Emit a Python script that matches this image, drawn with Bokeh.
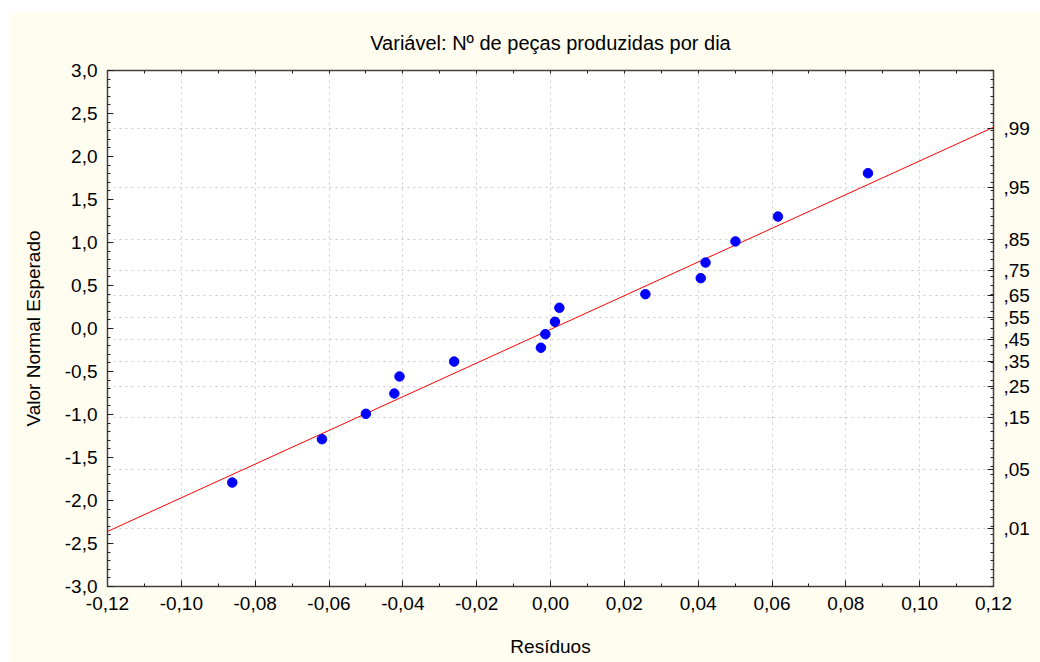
from bokeh.plotting import figure
from bokeh.models import FixedTicker, LinearAxis, Spacer
from bokeh.layouts import column, row
from bokeh.embed import file_html
from bokeh.resources import INLINE

# ---- data ----
residuals = [-0.0862, -0.0619, -0.0500, -0.0423, -0.0409, -0.0261, -0.0026, -0.0014,
             0.0012, 0.0024, 0.0257, 0.0407, 0.0420, 0.0501, 0.0616, 0.0860]
expected = [-1.791, -1.287, -0.992, -0.756, -0.558, -0.384, -0.224, -0.066,
            0.078, 0.241, 0.399, 0.585, 0.767, 1.012, 1.302, 1.806]
fit_x = [-0.12, 0.12]
fit_y = [-2.36, 2.34]

x_ticks = [-0.12, -0.10, -0.08, -0.06, -0.04, -0.02, 0.0, 0.02, 0.04, 0.06, 0.08, 0.10, 0.12]
x_tick_labels = ["-0,12", "-0,10", "-0,08", "-0,06", "-0,04", "-0,02", "0,00",
                 "0,02", "0,04", "0,06", "0,08", "0,10", "0,12"]
y_ticks = [-3.0, -2.5, -2.0, -1.5, -1.0, -0.5, 0.0, 0.5, 1.0, 1.5, 2.0, 2.5, 3.0]
y_tick_labels = ["-3,0", "-2,5", "-2,0", "-1,5", "-1,0", "-0,5", "0,0",
                 "0,5", "1,0", "1,5", "2,0", "2,5", "3,0"]
prob_ticks = [-2.326, -1.645, -1.036, -0.674, -0.385, -0.126,
              0.126, 0.385, 0.674, 1.036, 1.645, 2.326]
prob_labels = [",01", ",05", ",15", ",25", ",35", ",45",
               ",55", ",65", ",75", ",85", ",95", ",99"]

title_text = "Variável: Nº de peças produzidas por dia"
x_label = "Resíduos"
y_label = "Valor Normal Esperado"

FONT = "Liberation Sans"
FS = "19px"
BG = "#FFFDF0"

x_minor = [round(-0.12 + i * 0.01, 2) for i in range(25)]
y_minor = [round(-3.0 + i * 0.1, 1) for i in range(61)]

p = figure(width=1032, height=651, x_range=(-0.12, 0.12), y_range=(-3, 3),
           output_backend="svg", toolbar_location=None, title=title_text,
           background_fill_color="white", border_fill_color=BG,
           min_border_left=99, min_border_right=47, min_border_top=59, min_border_bottom=76,
           outline_line_color="#404040", outline_line_width=1.5)

p.title.text_font = FONT
p.title.text_font_size = "20px"
p.title.text_font_style = "normal"
p.title.text_color = "black"
p.title.align = "center"
p.title.offset = 10
p.title.standoff = 34


def style_axis(ax):
    ax.axis_line_color = "#404040"
    ax.major_tick_line_color = "#202020"
    ax.minor_tick_line_color = "#202020"
    ax.major_tick_in = 6
    ax.major_tick_out = 0
    ax.minor_tick_in = 3
    ax.minor_tick_out = 0
    ax.major_label_text_font = FONT
    ax.major_label_text_font_size = FS
    ax.major_label_text_color = "black"
    ax.major_label_standoff = 10
    ax.axis_label_text_font = FONT
    ax.axis_label_text_font_size = FS
    ax.axis_label_text_font_style = "normal"
    ax.axis_label_text_color = "black"


xa = p.xaxis[0]
xa.ticker = FixedTicker(ticks=x_ticks, minor_ticks=x_minor)
xa.major_label_overrides = dict(zip(x_ticks, x_tick_labels))
xa.axis_label = x_label
style_axis(xa)
xa.axis_label_standoff = 23

ya = p.yaxis[0]
ya.ticker = FixedTicker(ticks=y_ticks, minor_ticks=y_minor)
ya.major_label_overrides = dict(zip(y_ticks, y_tick_labels))
ya.axis_label = y_label
style_axis(ya)
ya.major_label_orientation = "horizontal"
ya.axis_label_standoff = 18

top = LinearAxis(ticker=FixedTicker(ticks=[], minor_ticks=x_minor))
style_axis(top)
p.add_layout(top, "above")

right = LinearAxis(ticker=FixedTicker(ticks=prob_ticks, minor_ticks=y_minor),
                   major_label_overrides=dict(zip(prob_ticks, prob_labels)))
style_axis(right)
p.add_layout(right, "right")

p.xgrid.ticker = FixedTicker(ticks=x_ticks)
p.ygrid.ticker = FixedTicker(ticks=prob_ticks)
for g in (p.xgrid[0], p.ygrid[0]):
    g.grid_line_color = "#c8c8c8"
    g.grid_line_dash = "2 4"
    g.grid_line_width = 1

p.line(fit_x, fit_y, line_color="#FF0000", line_width=1)
p.scatter(residuals, expected, marker="circle", size=9.5, fill_color="#0000FF",
          line_color="#0000FF")

layout = column(Spacer(height=11, width=1040),
                row(Spacer(width=8, height=651), p))

open("out.html", "w").write(file_html(layout, INLINE))
